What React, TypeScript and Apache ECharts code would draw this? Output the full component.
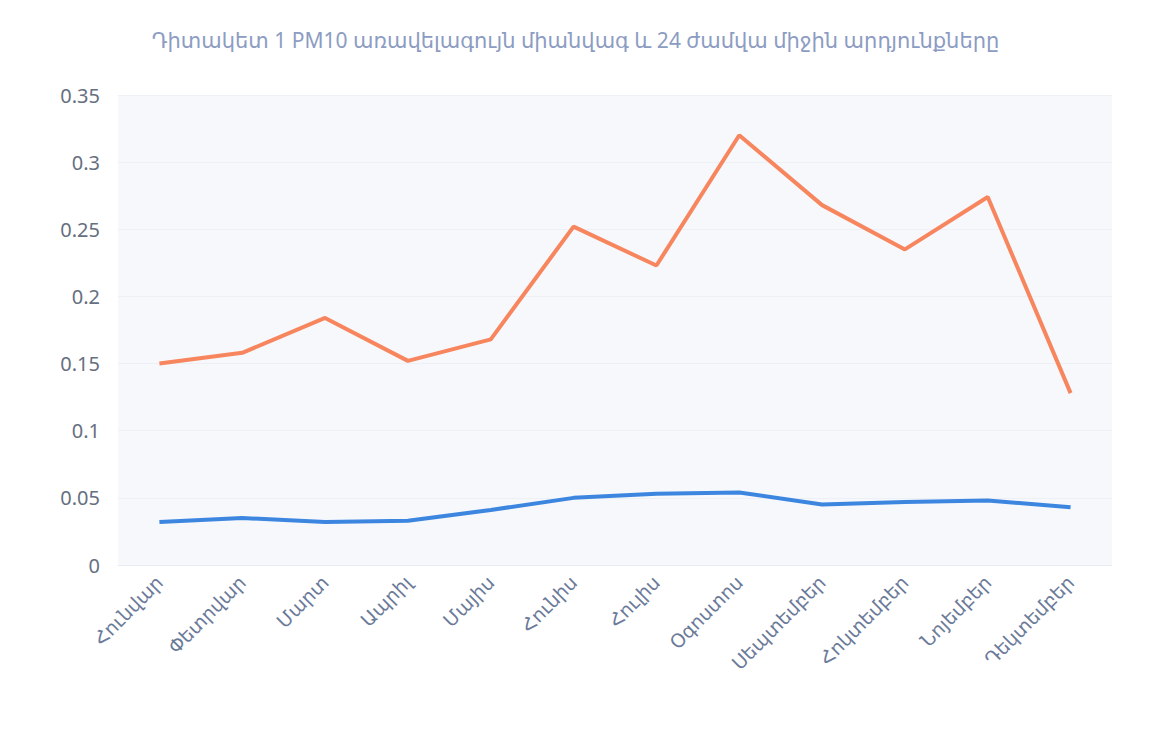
import React, { useEffect, useRef } from "react";
import * as echarts from "echarts";

const months = [
  "Հունվար",
  "Փետրվար",
  "Մարտ",
  "Ապրիլ",
  "Մայիս",
  "Հունիս",
  "Հուլիս",
  "Օգոստոս",
  "Սեպտեմբեր",
  "Հոկտեմբեր",
  "Նոյեմբեր",
  "Դեկտեմբեր",
];

const maxOneTime = [0.15, 0.158, 0.184, 0.152, 0.168, 0.252, 0.223, 0.32, 0.268, 0.235, 0.274, 0.128];
const avg24h = [0.032, 0.035, 0.032, 0.033, 0.041, 0.05, 0.053, 0.054, 0.045, 0.047, 0.048, 0.043];

const titleText = "Դիտակետ 1 PM10 առավելագույն միանվագ և 24 ժամվա միջին արդյունքները";

const FONT = "'Noto Sans', 'DejaVu Sans', sans-serif";

export default function App() {
  const ref = useRef<HTMLDivElement>(null);

  useEffect(() => {
    if (!ref.current) return;
    const chart = echarts.init(ref.current, undefined, { renderer: "svg" });
    chart.setOption({
      animation: false,
      backgroundColor: "#ffffff",
      title: {
        text: titleText,
        left: "center",
        top: 24,
        textStyle: {
          fontFamily: FONT,
          fontSize: 21,
          fontWeight: "normal",
          color: "#8c9cc2",
        },
      },
      grid: {
        left: 118,
        right: 39,
        top: 95,
        bottom: 165,
        show: true,
        backgroundColor: "#f6f8fc",
        borderWidth: 0,
      },
      xAxis: {
        type: "category",
        data: months,
        boundaryGap: true,
        axisLine: { show: true, lineStyle: { color: "#e8ebf2" } },
        axisTick: { show: false },
        axisLabel: {
          rotate: 45,
          interval: 0,
          margin: 14,
          fontFamily: FONT,
          fontSize: 19,
          color: "#6b7a99",
        },
      },
      yAxis: {
        type: "value",
        min: 0,
        max: 0.35,
        interval: 0.05,
        axisLine: { show: false },
        axisTick: { show: false },
        splitLine: { show: true, lineStyle: { color: "#edf0f5", width: 1 } },
        axisLabel: {
          margin: 18,
          fontFamily: FONT,
          fontSize: 20,
          color: "#666f80",
          formatter: (v: number) => String(parseFloat(v.toFixed(2))),
        },
      },
      series: [
        {
          name: "Առավելագույն միանվագ",
          type: "line",
          data: maxOneTime,
          symbol: "none",
          lineStyle: { color: "#f7865f", width: 4 },
          itemStyle: { color: "#f7865f" },
        },
        {
          name: "24 ժամվա միջին",
          type: "line",
          data: avg24h,
          symbol: "none",
          lineStyle: { color: "#3c86e0", width: 4 },
          itemStyle: { color: "#3c86e0" },
        },
      ],
    });
    return () => chart.dispose();
  }, []);

  return (
    <div
      ref={ref}
      style={{ position: "fixed", left: 0, top: 0, width: 1151, height: 730 }}
    />
  );
}
